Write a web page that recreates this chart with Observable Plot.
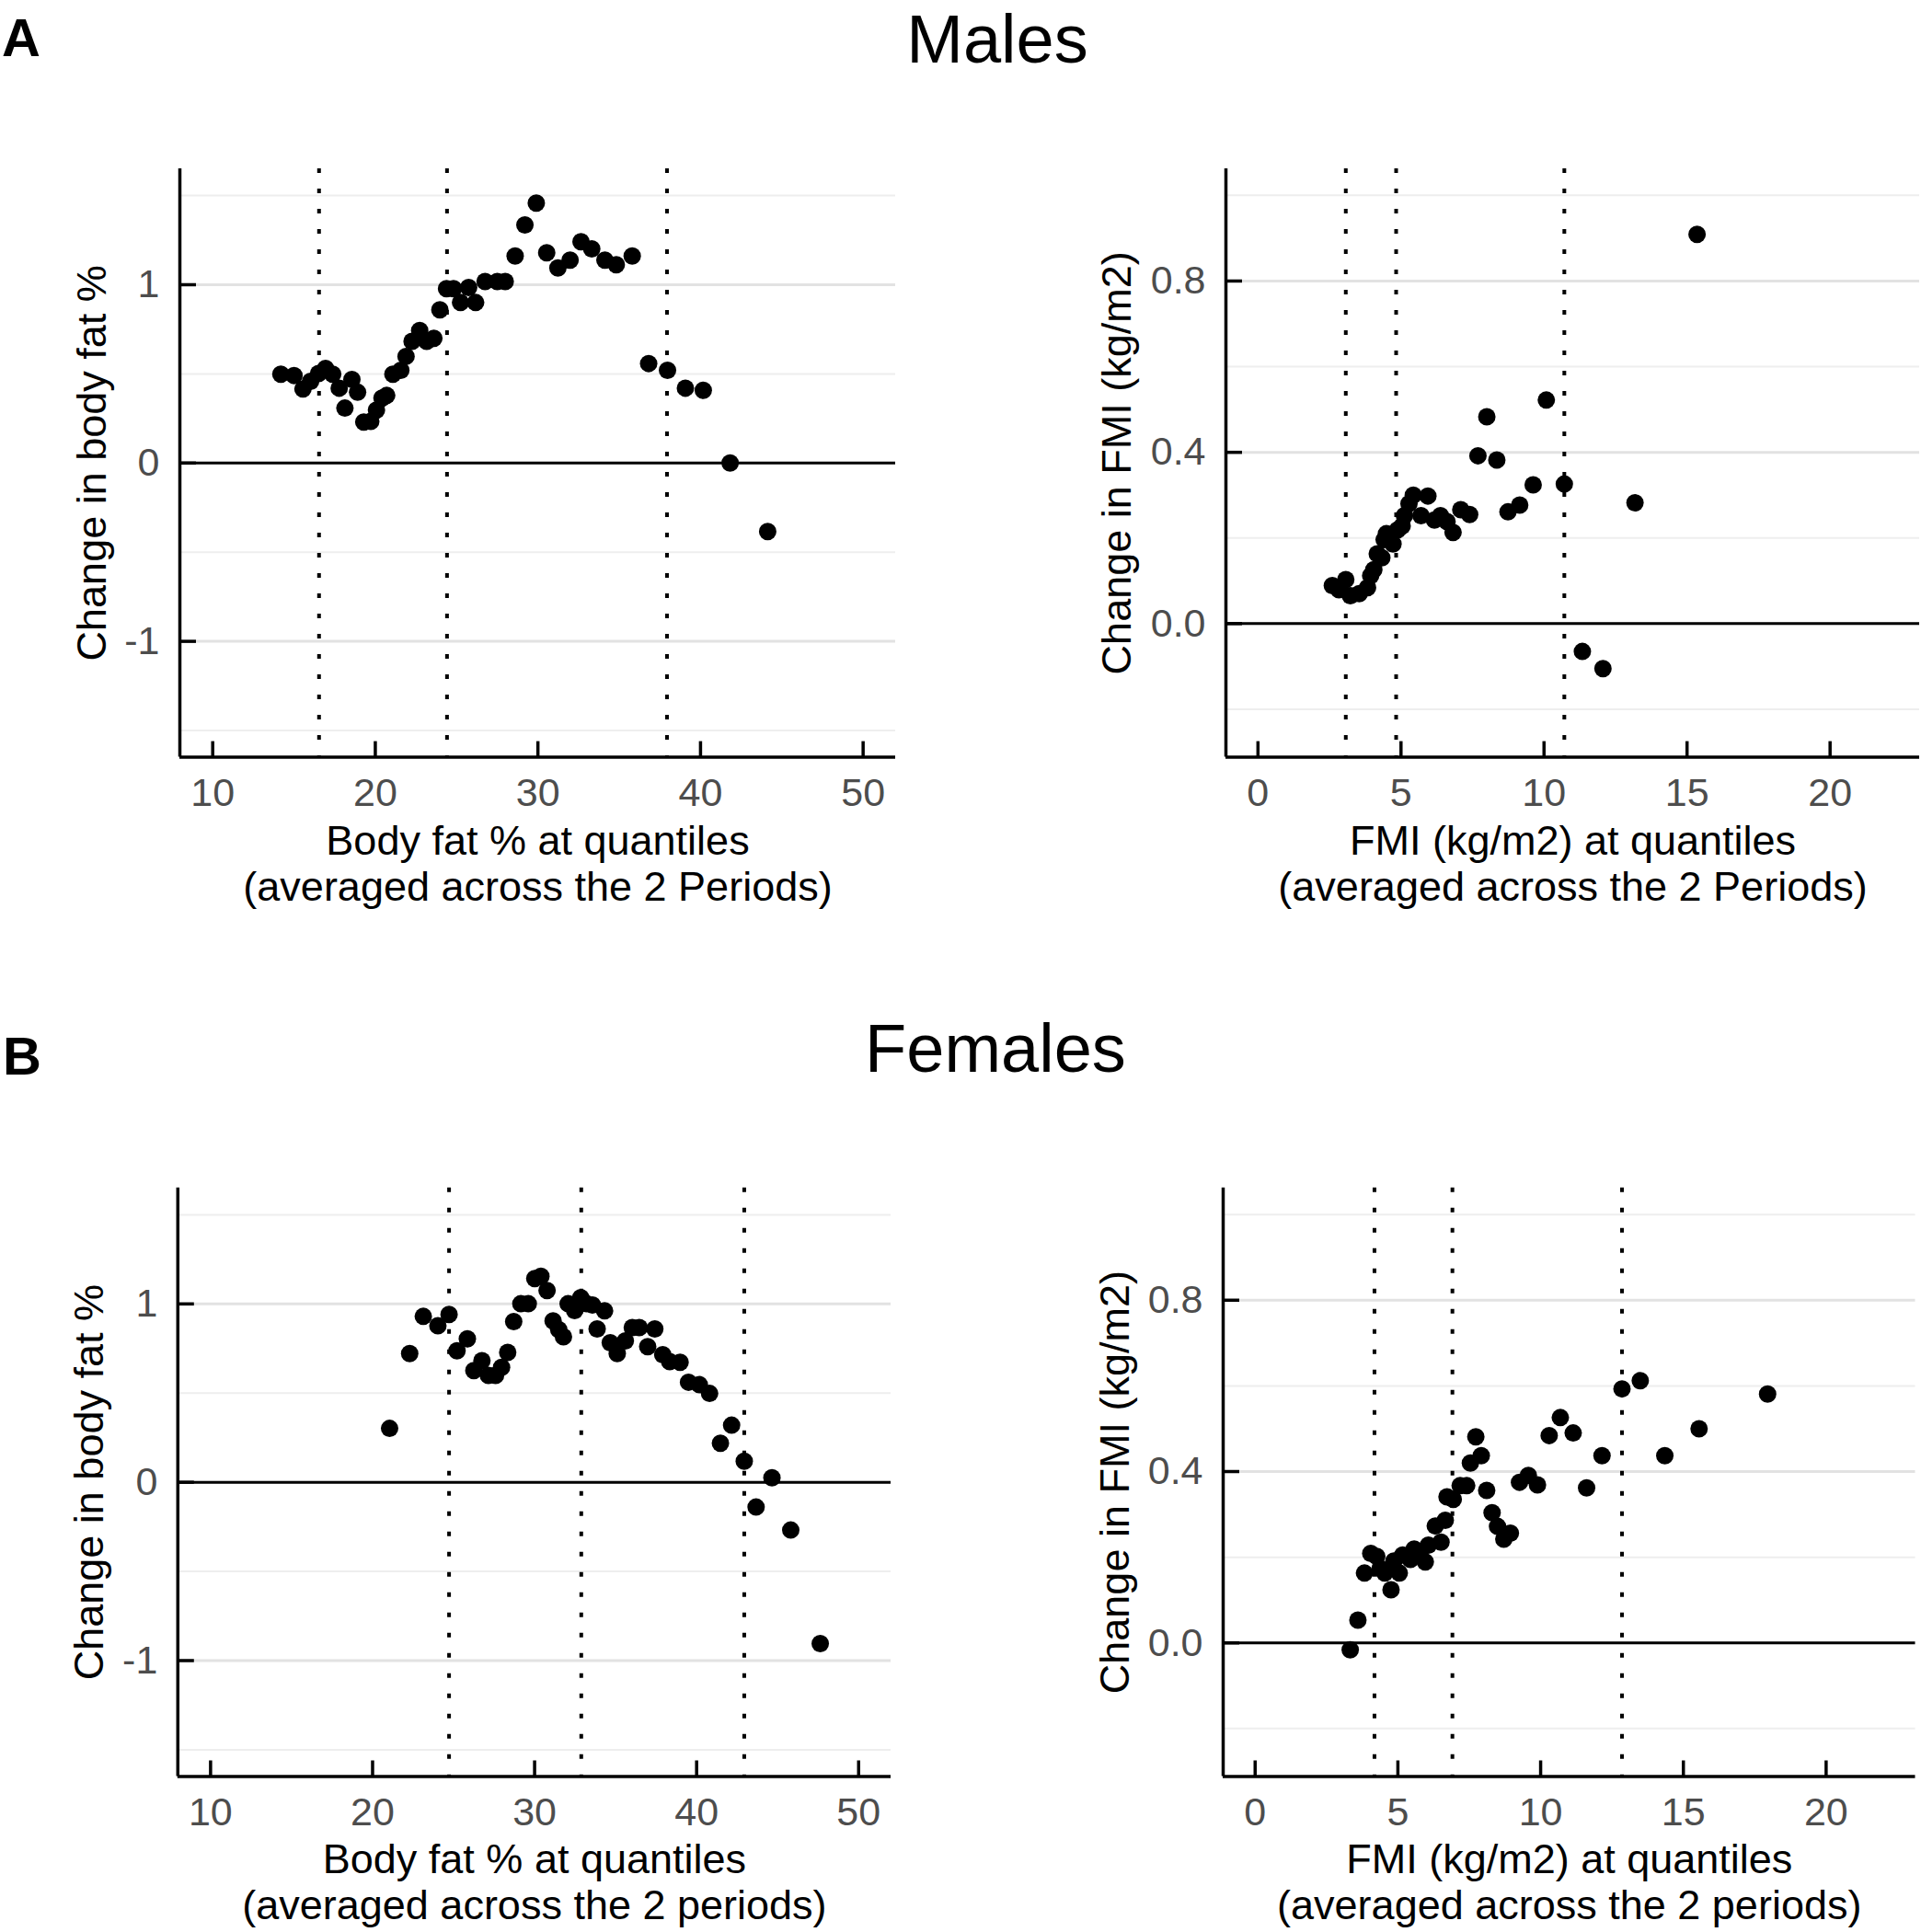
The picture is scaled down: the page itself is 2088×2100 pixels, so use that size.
<!DOCTYPE html>
<html>
<head>
<meta charset="utf-8">
<script src="https://cdn.jsdelivr.net/npm/d3@7"></script>
<script src="https://cdn.jsdelivr.net/npm/@observablehq/plot@0.6"></script>
<style>
  html, body { margin: 0; padding: 0; background: #fff; }
  #fig { position: relative; width: 2088px; height: 2100px; background: #fff; font-family: "Liberation Sans", Arial, sans-serif; overflow: hidden; }
  .panel { position: absolute; }
  .title { position: absolute; white-space: nowrap; color: #000; }
</style>
</head>
<body>
<div id="fig">
  <div class="title" style="left:2px; top:16px; font-size:58px; line-height:50px; font-weight:bold;">A</div>
  <div class="title" style="left:1084px; top:13px; font-size:74px; line-height:60px; transform:translateX(-50%);">Males</div>
  <div class="title" style="left:3px; top:1123px; font-size:58px; line-height:50px; font-weight:bold;">B</div>
  <div class="title" style="left:1082px; top:1110px; font-size:74px; line-height:60px; transform:translateX(-50%);">Females</div>
  <div class="panel" id="p1" style="left:0px; top:130px;"></div>
  <div class="panel" id="p2" style="left:1044px; top:130px;"></div>
  <div class="panel" id="p3" style="left:0px; top:1240px;"></div>
  <div class="panel" id="p4" style="left:1044px; top:1240px;"></div>
</div>
<script>
// ---------- Data ----------
// Males: body fat %
const maleBfX = [14.19,15.0,15.55,16.02,16.51,16.94,17.38,17.78,18.13,18.56,18.91,19.29,19.72,20.07,20.41,20.70,21.08,21.57,21.89,22.26,22.73,23.16,23.6,23.97,24.38,24.81,25.24,25.74,26.17,26.75,27.5,27.99,28.6,29.2,29.9,30.54,31.23,31.98,32.65,33.31,34.12,34.82,35.8,36.81,37.97,39.07,40.17,41.82,44.13];
const maleBfY = [0.498,0.491,0.415,0.458,0.502,0.531,0.498,0.42,0.308,0.469,0.397,0.23,0.234,0.297,0.364,0.379,0.498,0.52,0.598,0.683,0.743,0.683,0.699,0.859,0.978,0.978,0.9,0.984,0.9,1.018,1.018,1.018,1.161,1.335,1.458,1.179,1.094,1.138,1.241,1.201,1.138,1.112,1.161,0.558,0.52,0.42,0.408,0.0,-0.384];
const maleBfQuantiles = [16.54, 24.41, 37.94];

// Males: FMI
const maleFmiX = [2.60,2.83,3.07,3.23,3.54,3.83,3.94,4.05,4.17,4.33,4.41,4.49,4.72,4.88,5.04,5.12,5.28,5.43,5.70,5.94,6.17,6.38,6.61,6.82,7.09,7.40,7.69,8.0,8.35,8.74,9.15,9.62,10.08,10.71,11.34,12.06,13.18,15.35];
const maleFmiY = [0.089,0.079,0.103,0.065,0.070,0.084,0.112,0.126,0.163,0.154,0.196,0.21,0.186,0.219,0.228,0.252,0.28,0.30,0.252,0.298,0.242,0.252,0.238,0.213,0.266,0.255,0.392,0.483,0.382,0.261,0.277,0.324,0.522,0.326,-0.065,-0.105,0.282,0.909];
const maleFmiQuantiles = [3.07, 4.83, 10.71];

// Females: body fat %
const femaleBfX = [21.05,22.29,23.13,24.03,24.72,25.21,25.85,26.25,26.75,27.15,27.59,27.96,28.34,28.71,29.15,29.61,30.01,30.39,30.77,31.14,31.49,31.78,32.07,32.47,32.85,33.2,33.57,33.86,34.32,34.67,35.1,35.6,36.03,36.46,36.98,37.42,37.91,38.34,38.98,39.5,40.17,40.8,41.47,42.16,42.94,43.67,44.65,45.81,47.63];
const femaleBfY = [0.302,0.722,0.930,0.878,0.941,0.737,0.804,0.626,0.682,0.599,0.599,0.644,0.728,0.901,1.001,1.001,1.142,1.155,1.075,0.905,0.856,0.816,1.001,0.963,1.035,1.001,0.994,0.86,0.961,0.782,0.722,0.793,0.867,0.867,0.760,0.86,0.715,0.677,0.673,0.561,0.547,0.498,0.219,0.320,0.118,-0.139,0.025,-0.268,-0.905];
const femaleBfQuantiles = [24.72, 32.88, 42.94];

// Females: FMI
const femaleFmiX = [3.33,3.60,3.83,4.05,4.26,4.38,4.54,4.76,4.86,5.05,5.17,5.44,5.57,5.76,5.96,6.07,6.31,6.51,6.66,6.72,6.94,7.18,7.41,7.54,7.73,7.92,8.11,8.30,8.49,8.71,8.94,9.26,9.57,9.89,10.30,10.69,11.14,11.61,12.15,12.85,13.49,14.35,15.55,17.95];
const femaleFmiY = [-0.016,0.053,0.163,0.209,0.202,0.174,0.163,0.124,0.191,0.163,0.205,0.195,0.219,0.205,0.189,0.228,0.273,0.235,0.286,0.341,0.335,0.367,0.367,0.420,0.481,0.437,0.356,0.304,0.272,0.242,0.256,0.375,0.391,0.369,0.484,0.526,0.490,0.362,0.437,0.593,0.612,0.437,0.50,0.581];
const femaleFmiQuantiles = [4.18, 6.91, 12.85];

// Axes
const bfXTicks = [10, 20, 30, 40, 50];
const bfXDomain = [7.98, 52.0];
const bfYTicks = [-1, 0, 1];
const bfYMinorGrid = [-1.5, -0.5, 0.5, 1.5];
const bfYDomain = [-1.65, 1.65];

const fmiXTicks = [0, 5, 10, 15, 20];
const fmiXDomain = [-1.12, 23.13];
const fmiYTicks = [0, 0.4, 0.8];
const fmiYMinorGrid = [-0.2, 0.2, 0.6, 1.0];
const fmiYDomain = [-0.312, 1.062];

const bfYLabel = "Change in body fat %";
const fmiYLabel = "Change in FMI (kg/m2)";
const bfXLabelM = "Body fat % at quantiles\n(averaged across the 2 Periods)";
const fmiXLabelM = "FMI (kg/m2) at quantiles\n(averaged across the 2 Periods)";
const bfXLabelF = "Body fat % at quantiles\n(averaged across the 2 periods)";
const fmiXLabelF = "FMI (kg/m2) at quantiles\n(averaged across the 2 periods)";

// ---------- Drawing ----------
function panel(o) {
  const data = o.xs.map((x, i) => ({x, y: o.ys[i]}));
  const fw = o.width - o.ml - o.mr;
  const fh = o.height - o.mt - o.mb;
  return Plot.plot({
    width: o.width, height: o.height,
    marginTop: o.mt, marginRight: o.mr, marginBottom: o.mb, marginLeft: o.ml,
    x: {domain: o.xDomain, label: null},
    y: {domain: o.yDomain, label: null},
    style: {fontFamily: '"Liberation Sans", Arial, sans-serif', overflow: "visible", background: "transparent"},
    marks: [
      Plot.ruleY(o.yMinor, {y: d => d, stroke: "#eeeeee", strokeWidth: 2}),
      Plot.ruleY(o.yTicks, {y: d => d, stroke: "#e2e2e2", strokeWidth: 3}),
      Plot.ruleX(o.qs, {x: d => d, stroke: "black", strokeWidth: 4, strokeDasharray: "5,17"}),
      Plot.ruleY([0], {y: d => d, stroke: "black", strokeWidth: 3}),
      Plot.dot(data, {x: "x", y: "y", r: 9.5, fill: "black", stroke: null}),
      Plot.ruleX([o.xDomain[0]], {x: d => d, stroke: "black", strokeWidth: 3.5}),
      Plot.ruleY([o.yDomain[0]], {y: d => d, stroke: "black", strokeWidth: 3.5}),
      Plot.tickX(o.xTicks, {x: d => d, stroke: "black", strokeWidth: 3.5, insetTop: fh - 17}),
      Plot.tickY(o.yTicks, {y: d => d, stroke: "black", strokeWidth: 3.5, insetRight: fw - 18}),
      Plot.axisX(o.xTicks, {tickSize: 0, tickPadding: 22, fontSize: 43, fill: "#4d4d4d", label: null, tickFormat: d => String(d)}),
      Plot.axisY(o.yTicks, {tickSize: 0, tickPadding: 22, fontSize: 43, fill: "#4d4d4d", label: null, tickFormat: o.yFormat}),
      Plot.text([o.xLabel], {text: d => d, frameAnchor: "bottom", dy: 70, lineAnchor: "top", textAnchor: "middle", lineHeight: 1.11, fontSize: 45, fill: "black"}),
      Plot.text([o.yLabel], {text: d => d, frameAnchor: "left", dx: o.yLabelDx, rotate: -90, textAnchor: "middle", lineAnchor: "middle", fontSize: 45, fill: "black"})
    ]
  });
}

const bfFmt = d => String(d);
const fmiFmt = d => d.toFixed(1);

document.getElementById("p1").append(panel({
  xs: maleBfX, ys: maleBfY, qs: maleBfQuantiles,
  xDomain: bfXDomain, yDomain: bfYDomain, xTicks: bfXTicks, yTicks: bfYTicks, yMinor: bfYMinorGrid,
  xLabel: bfXLabelM, yLabel: bfYLabel, yFormat: bfFmt, yLabelDx: -95,
  width: 1044, height: 870, mt: 53, mb: 177.4, ml: 195, mr: 71
}));
document.getElementById("p2").append(panel({
  xs: maleFmiX, ys: maleFmiY, qs: maleFmiQuantiles,
  xDomain: fmiXDomain, yDomain: fmiYDomain, xTicks: fmiXTicks, yTicks: fmiYTicks, yMinor: fmiYMinorGrid,
  xLabel: fmiXLabelM, yLabel: fmiYLabel, yFormat: fmiFmt, yLabelDx: -118,
  width: 1044, height: 870, mt: 53, mb: 177.4, ml: 288, mr: 2
}));
document.getElementById("p3").append(panel({
  xs: femaleBfX, ys: femaleBfY, qs: femaleBfQuantiles,
  xDomain: bfXDomain, yDomain: bfYDomain, xTicks: bfXTicks, yTicks: bfYTicks, yMinor: bfYMinorGrid,
  xLabel: bfXLabelF, yLabel: bfYLabel, yFormat: bfFmt, yLabelDx: -96,
  width: 1044, height: 860, mt: 50.8, mb: 169.5, ml: 192.8, mr: 76
}));
document.getElementById("p4").append(panel({
  xs: femaleFmiX, ys: femaleFmiY, qs: femaleFmiQuantiles,
  xDomain: fmiXDomain, yDomain: fmiYDomain, xTicks: fmiXTicks, yTicks: fmiYTicks, yMinor: fmiYMinorGrid,
  xLabel: fmiXLabelF, yLabel: fmiYLabel, yFormat: fmiFmt, yLabelDx: -117,
  width: 1044, height: 860, mt: 50.8, mb: 169.5, ml: 285, mr: 6.5
}));
</script>
</body>
</html>
